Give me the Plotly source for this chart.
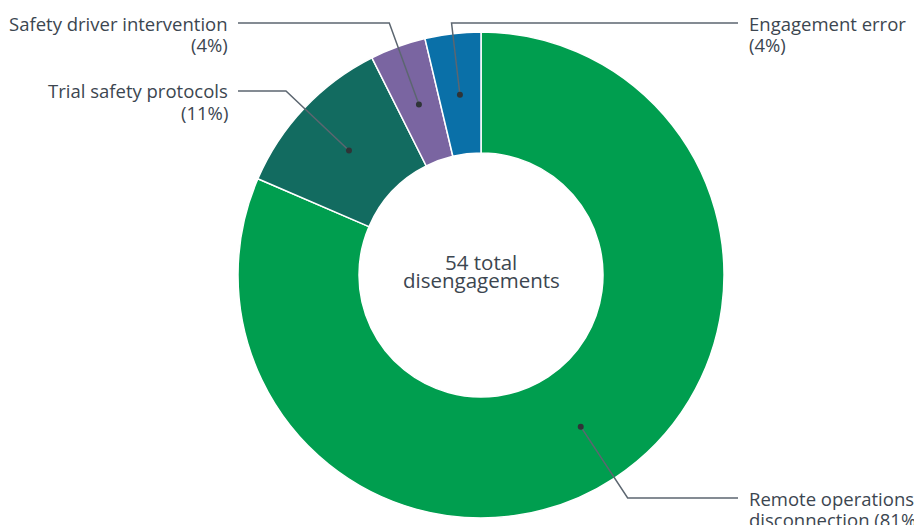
import math
import plotly.graph_objects as go

# ---- data ----
categories = ["Remote operations disconnection", "Trial safety protocols",
              "Safety driver intervention", "Engagement error"]
counts = [44, 6, 2, 2]
label_line1 = ["Remote operations", "Trial safety protocols",
               "Safety driver intervention", "Engagement error"]
label_line2 = ["disconnection (81%)", "(11%)", "(4%)", "(4%)"]
colors = ["#009e4f", "#126b60", "#7a65a1", "#0a70a8"]
center_lines = ["54 total", "disengagements"]

W, H = 922, 525
OFF = 8  # page body margin offset
CX, CY, R_OUT, R_IN = 481 - OFF, 275 - OFF, 243, 122
TEXT = "#3c4650"
LINE = "#5c6670"
FONT = "Open Sans, Noto Sans, sans-serif"

fig = go.Figure(go.Pie(
    labels=categories, values=counts, sort=False, direction="clockwise",
    rotation=0, hole=R_IN / R_OUT, textinfo="none", hoverinfo="label+percent",
    marker=dict(colors=colors, line=dict(color="white", width=1.5)),
    domain=dict(x=[(CX - R_OUT) / W, (CX + R_OUT) / W],
                y=[1 - (CY + R_OUT) / H, 1 - (CY - R_OUT) / H]),
    showlegend=False,
))

# leader lines: radial from mid-ring dot to an elbow level, then horizontal
elbow_y = [498 - OFF, 91 - OFF, 23 - OFF, 23 - OFF]
side = ["right", "left", "left", "right"]
total = sum(counts)
cum = 0
shapes, annotations = [], []
r_dot = (R_OUT + R_IN) / 2 - 1
px = lambda x: x / W
py = lambda y: 1 - y / H
for i, v in enumerate(counts):
    mid = (cum + v / 2) / total * 2 * math.pi
    cum += v
    ux, uy = math.sin(mid), -math.cos(mid)
    dx, dy = CX + r_dot * ux, CY + r_dot * uy
    t = (elbow_y[i] - dy) / uy
    ex, ey = dx + t * ux, elbow_y[i]
    hx = (738 if side[i] == "right" else 238) - OFF
    shapes.append(dict(type="path", xref="paper", yref="paper",
                       path=f"M {px(dx)} {py(dy)} L {px(ex)} {py(ey)} L {px(hx)} {py(ey)}",
                       line=dict(color=LINE, width=1.5)))
    shapes.append(dict(type="circle", xref="paper", yref="paper",
                       x0=px(dx - 3), x1=px(dx + 3), y0=py(dy + 3), y1=py(dy - 3),
                       fillcolor="#2f3437", line=dict(width=0)))
    tx = (747 if side[i] == "right" else 230) - OFF
    for k, txt in enumerate([label_line1[i], label_line2[i]]):
        annotations.append(dict(
            x=px(tx), y=py(ey + k * 21), xref="paper", yref="paper",
            text=txt, showarrow=False,
            xanchor="left" if side[i] == "right" else "right", yanchor="middle",
            font=dict(family=FONT, size=18.5, color=TEXT)))

for line, yc in zip(center_lines, [262 - OFF, 280 - OFF]):
    annotations.append(dict(x=px(CX), y=py(yc), xref="paper", yref="paper",
                            text=line, showarrow=False, xanchor="center", yanchor="middle",
                            font=dict(family=FONT, size=20.5, color=TEXT)))

fig.update_layout(width=W, height=H, margin=dict(l=0, r=0, t=0, b=0),
                  paper_bgcolor="white", plot_bgcolor="white",
                  shapes=shapes, annotations=annotations)
fig.write_html("out.html")
